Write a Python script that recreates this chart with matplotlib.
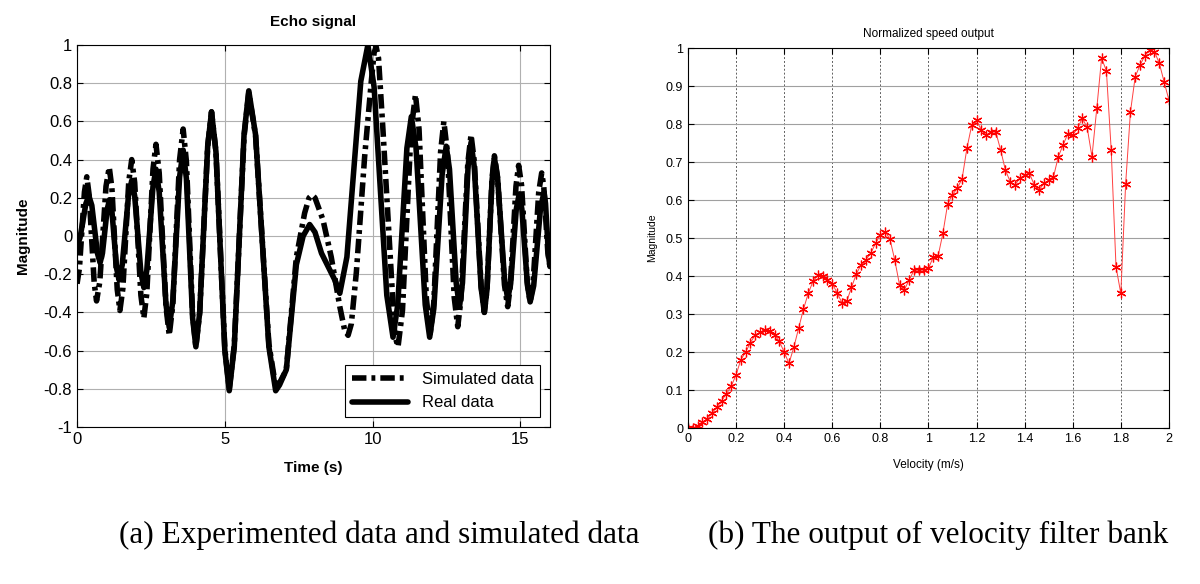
import matplotlib.pyplot as plt
import matplotlib.ticker as mticker
import numpy as np

plt.rcParams['font.family'] = ['Liberation Sans', 'DejaVu Sans']

# (a) echo signal (peaks, troughs and the flanks between)
sim_t = [0, 0.08, 0.25, 0.33, 0.41, 0.58, 0.66, 0.77, 0.98, 1.09, 1.18, 1.36, 1.45,
         1.55, 1.75, 1.85, 1.95, 2.16, 2.26, 2.36, 2.57, 2.67, 2.78, 3.01, 3.12,
         3.24, 3.47, 3.59, 3.70, 3.91, 4.02, 4.15, 4.42, 4.55, 4.70, 5.0, 5.15,
         5.32, 5.65, 5.81, 6.04, 6.49, 6.72, 6.85, 7.08, 7.42, 7.7, 7.85, 7.95,
         8.05, 8.32, 8.6, 8.89, 9.05, 9.17, 9.28, 9.45, 9.73, 9.95, 10.05, 10.12,
         10.2, 10.35, 10.75, 10.86, 11.01, 11.30, 11.45, 11.57, 11.82, 11.95,
         12.07, 12.30, 12.41, 12.53, 12.76, 12.88, 12.99, 13.22, 13.33, 13.44,
         13.67, 13.78, 13.87, 14.04, 14.12, 14.23, 14.46, 14.57, 14.66, 14.85,
         14.94, 15.04, 15.23, 15.33, 15.43, 15.62, 15.72, 15.79, 15.93, 16]
sim_y = [-0.25, -0.17, 0.23, 0.31, 0.215, -0.245, -0.34, -0.24, 0.26, 0.36, 0.25, -0.28, -0.39,
         -0.275, 0.285, 0.40, 0.28, -0.31, -0.43, -0.30, 0.35, 0.48, 0.33, -0.37, -0.52,
         -0.36, 0.40, 0.56, 0.39, -0.41, -0.58, -0.40, 0.47, 0.65, 0.44, -0.59, -0.80,
         -0.57, 0.52, 0.75, 0.525, -0.565, -0.79, -0.77, -0.70, -0.11, 0.12, 0.20, 0.215,
         0.20, 0.085, -0.11, -0.37, -0.49, -0.52, -0.46, -0.19, 0.415, 0.80, 0.96, 0.99,
         0.93, 0.555, -0.52, -0.58, -0.39, 0.55, 0.74, 0.56, -0.33, -0.51,
         -0.35, 0.44, 0.60, 0.44, -0.32, -0.475, -0.33, 0.38, 0.53, 0.39,
         -0.26, -0.40, -0.28, 0.30, 0.42, 0.305, -0.255, -0.37, -0.26, 0.26,
         0.37, 0.265, -0.24, -0.345, -0.245, 0.23, 0.33, 0.26, -0.09, -0.16]

real_t = [0, 0.1, 0.3, 0.4, 0.5, 0.69, 0.78, 0.86, 1.02, 1.1, 1.18, 1.34, 1.42,
          1.53, 1.74, 1.85, 1.95, 2.16, 2.26, 2.36, 2.57, 2.67, 2.78, 3.01, 3.12,
          3.24, 3.47, 3.59, 3.70, 3.91, 4.02, 4.15, 4.42, 4.55, 4.70, 5.0, 5.15,
          5.32, 5.65, 5.81, 6.04, 6.49, 6.72, 6.85, 7.08, 7.42, 7.65, 7.87, 8.05,
          8.27, 8.72, 8.89, 9.13, 9.60, 9.84, 10.05, 10.48, 10.69, 10.85, 11.16,
          11.31, 11.47, 11.78, 11.93, 12.07, 12.35, 12.49, 12.60, 12.83, 12.94,
          13.04, 13.23, 13.33, 13.44, 13.67, 13.78, 13.87, 14.04, 14.12, 14.23,
          14.46, 14.57, 14.67, 14.86, 14.96, 15.05, 15.24, 15.33, 15.45, 15.68,
          15.8, 15.85, 15.95, 16]
real_y = [-0.05, -0.01, 0.17, 0.21, 0.16, -0.09, -0.14, -0.09, 0.14, 0.19, 0.13, -0.17, -0.23,
          -0.15, 0.21, 0.29, 0.21, -0.19, -0.27, -0.18, 0.26, 0.35, 0.23, -0.36, -0.48,
          -0.34, 0.31, 0.45, 0.30, -0.43, -0.58, -0.40, 0.47, 0.65, 0.44, -0.60, -0.81,
          -0.58, 0.53, 0.76, 0.53, -0.58, -0.81, -0.78, -0.70, -0.15, 0.0, 0.06, 0.02,
          -0.09, -0.23, -0.30, -0.11, 0.81, 1.0, 0.78, -0.31, -0.53, -0.36, 0.46,
          0.625, 0.46, -0.36, -0.53, -0.38, 0.32, 0.47, 0.35, -0.25, -0.37,
          -0.245, 0.365, 0.49, 0.36, -0.27, -0.40, -0.28, 0.29, 0.41, 0.30,
          -0.22, -0.33, -0.25, 0.14, 0.22, 0.14, -0.26, -0.345, -0.26, 0.145,
          0.23, 0.17, -0.10, -0.16]

# (b) velocity filter bank output, 0 .. 2 m/s in 0.02 steps
velocity = np.linspace(0, 2, 101)
speed_out = [0.0, 0.0, 0.005, 0.015, 0.025, 0.04, 0.055, 0.072, 0.09, 0.11,
             0.14, 0.18, 0.20, 0.225, 0.245, 0.252, 0.257, 0.255, 0.245, 0.228,
             0.20, 0.17, 0.212, 0.262, 0.312, 0.354, 0.386, 0.402, 0.40, 0.39,
             0.38, 0.356, 0.33, 0.333, 0.37, 0.405, 0.43, 0.443, 0.46, 0.486,
             0.508, 0.517, 0.497, 0.442, 0.376, 0.364, 0.39, 0.415, 0.416, 0.416,
             0.42, 0.45, 0.452, 0.512, 0.59, 0.614, 0.631, 0.656, 0.736, 0.797,
             0.81, 0.784, 0.771, 0.78, 0.779, 0.732, 0.679, 0.648, 0.64, 0.657,
             0.666, 0.67, 0.64, 0.626, 0.644, 0.652, 0.661, 0.714, 0.745, 0.775,
             0.771, 0.789, 0.815, 0.791, 0.714, 0.841, 0.973, 0.94, 0.732, 0.424,
             0.354, 0.642, 0.832, 0.925, 0.955, 0.98, 0.995, 0.99, 0.96, 0.911,
             0.863]


def short_label(v, pos):
    return '%g' % (round(v, 1) + 0.0)


fig = plt.figure(figsize=(12, 5.84), dpi=100)

# left panel
ax1 = fig.add_axes([0.0642, 0.2688, 0.3941, 0.6542])
ax1.plot(sim_t, sim_y, color='black', lw=4, linestyle=(0, (2.6, 0.9, 0.7, 0.9)),
         solid_joinstyle='round', dash_capstyle='butt', label='Simulated data')
ax1.plot(real_t, real_y, color='black', lw=4, solid_joinstyle='round',
         solid_capstyle='round', label='Real data')
ax1.set_xlim(0, 16)
ax1.set_ylim(-1, 1)
ax1.set_xticks([0, 5, 10, 15])
ax1.set_yticks(np.round(np.arange(-1, 1.01, 0.2), 1))
ax1.yaxis.set_major_formatter(mticker.FuncFormatter(short_label))
ax1.grid(True, color='#b0b0b0', lw=0.8)
ax1.tick_params(direction='in', top=True, right=True, labelsize=12, length=4)
ax1.set_title('Echo signal', fontsize=11, fontweight='bold', pad=14)
ax1.set_xlabel('Time (s)', fontsize=11, fontweight='bold', labelpad=10)
ax1.set_ylabel('Magnitude', fontsize=11, fontweight='bold', labelpad=10)
leg = ax1.legend(loc='lower right', fontsize=12, fancybox=False, framealpha=1,
                 edgecolor='black', handlelength=3.4, borderaxespad=0.6)
leg.get_frame().set_linewidth(0.8)

# right panel
ax2 = fig.add_axes([0.5733, 0.2671, 0.4008, 0.6507])
ax2.plot(velocity, speed_out, color='#ff4040', lw=0.7, marker=(6, 2, 0),
         markersize=7, markeredgewidth=0.9, markeredgecolor='red')
ax2.set_xlim(0, 2)
ax2.set_ylim(0, 1)
ax2.set_xticks(np.round(np.arange(0, 2.01, 0.2), 1))
ax2.set_yticks(np.round(np.arange(0, 1.01, 0.1), 1))
ax2.xaxis.set_major_formatter(mticker.FuncFormatter(short_label))
ax2.yaxis.set_major_formatter(mticker.FuncFormatter(short_label))
ax2.xaxis.grid(True, color='#606060', lw=0.7, linestyle=(0, (2, 2)))
ax2.yaxis.grid(True, color='#a0a0a0', lw=0.8)
ax2.tick_params(direction='in', top=True, right=True, labelsize=9, length=4)
ax2.set_title('Normalized speed output', fontsize=8.5, pad=8)
ax2.set_xlabel('Velocity (m/s)', fontsize=8.5, labelpad=10)
ax2.set_ylabel('Magnitude', fontsize=7.5, labelpad=6)

fig.text(0.316, 0.07, '(a) Experimented data and simulated data', ha='center',
         fontsize=22.5, family='Liberation Serif')
fig.text(0.782, 0.07, '(b) The output of velocity filter bank', ha='center',
         fontsize=22.5, family='Liberation Serif')

fig.savefig('out.png', dpi=100)
